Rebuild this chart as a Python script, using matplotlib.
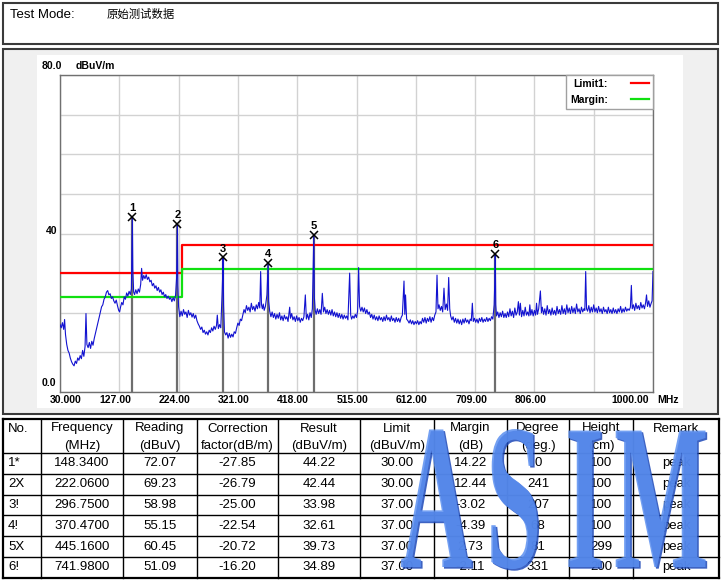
import numpy as np
import matplotlib
matplotlib.use("Agg")
import matplotlib.pyplot as plt
import matplotlib.transforms as mtransforms
import matplotlib.colors as mcolors
from matplotlib.patches import Rectangle
from matplotlib.lines import Line2D
from matplotlib.patheffects import AbstractPathEffect

plt.rcParams['font.family'] = ['Liberation Sans', 'DejaVu Sans']

# ---------------- data ----------------
test_mode_label = "Test Mode:"
test_mode_value = "原始测试数据"

x_tick_values = [30, 127, 224, 321, 418, 515, 612, 709, 806, 903, 1000]
x_tick_labels = ["30.000", "127.00", "224.00", "321.00", "418.00", "515.00",
                 "612.00", "709.00", "806.00", "", "1000.00"]
y_grid_values = [0, 10, 20, 30, 40, 50, 60, 70, 80]
y_tick_values = [80, 40, 0]
y_tick_labels = ["80.0", "40", "0.0"]
y_unit = "dBuV/m"
x_unit = "MHz"

limit_freq = [30, 230, 230, 1000]
limit_level = [30, 30, 37, 37]
margin_level = [24, 24, 31, 31]
legend_labels = ["Limit1:", "Margin:"]

trace_freq = [
    30, 32, 34, 36, 37.5, 39, 41, 43, 45, 47, 49, 51, 53, 55, 57, 59, 61, 63, 65, 67, 69, 71, 72.5,
    74, 76, 78, 80, 82, 84, 86, 88, 90, 92, 94, 96, 98, 100, 102, 104, 106, 108, 110, 112, 114, 116,
    118, 120, 122, 124, 126, 127.5, 129, 131, 133, 135, 137, 139, 141, 143, 145, 146.8, 147.6, 148.34,
    149.1, 150.5, 152, 154, 156, 158, 160, 162, 163.5, 165, 167, 169, 171, 173, 175, 177, 179, 181,
    183, 185, 187, 189, 191, 193, 195, 197, 199, 201, 203, 205, 207, 209, 211, 213, 215, 217, 219,
    220.8, 221.4, 222.06, 222.8, 224, 226,
    228, 230, 232, 234, 236, 238, 240, 242, 244, 246, 248, 250, 252, 254, 256, 258, 260, 262, 264,
    266, 268, 270, 272, 274, 276, 278, 280, 282, 284, 286, 287.3, 289, 291, 293, 295.2, 296.0, 296.75,
    297.6, 299, 301, 303, 305, 307, 309, 311, 313, 315, 317, 319, 321, 323, 325, 327, 329, 331, 333,
    335, 337, 339, 341, 343, 345, 347, 349, 351, 353, 355, 356.8, 358.2, 359.6, 361, 362.5, 364, 366,
    368.5, 369.6, 370.47, 371.3, 373, 375, 377, 379, 381, 383, 385, 387, 389, 391, 393, 395, 397, 399,
    401, 403, 405.7, 407, 409, 411, 413, 415, 417, 419, 421, 423, 425, 427,
    429, 431.3, 433, 435, 437, 439, 441, 442.8, 444.3, 445.16, 446.0, 447.5, 449, 451, 453, 455, 457,
    459.1, 461, 463, 465, 467, 469, 471, 473, 475, 477, 479, 481, 483, 485, 487, 489, 491, 493, 495,
    497, 499, 501, 503.8, 505.5, 507, 509, 511, 513, 515, 516.8, 518.5, 520, 522, 524, 526, 528, 530,
    532, 534, 536, 538, 540, 542, 544, 546, 548, 550, 552, 554, 556, 558, 560, 562, 564, 566, 568, 570,
    572, 574, 576, 578, 580, 582, 584, 586, 588, 590, 592.7, 594, 595.2, 597, 599, 601, 603, 605, 607,
    609, 611, 613, 615, 617, 619, 621,
    623, 625, 627, 629, 631, 633, 635, 637, 639, 641, 643, 645, 646.7, 648.3, 650, 652, 654, 656,
    658.1, 660, 662, 664, 665.8, 667.5, 669, 671, 673, 675, 677, 679, 681, 683, 685, 687, 689, 691,
    693, 695, 697, 699, 701, 702.8, 704.5, 706, 708, 710, 712, 714, 716, 718, 720, 722, 724, 726, 728,
    730, 732, 734, 736, 738, 740.2, 741.2, 741.98, 742.8, 744, 746, 748, 750, 752, 754, 756, 758, 760,
    762, 764, 766, 768, 770, 772, 774, 776, 778, 779.8, 781.5, 783, 785, 787, 789, 791, 793, 795, 797,
    798.5, 800, 802, 804, 806, 808, 809.5, 811, 813, 815.8,
    817.5, 819, 821, 823, 825, 827, 829, 831, 833, 835, 837, 839, 841, 843, 845, 847, 849, 851, 853,
    855, 857, 859, 861, 863, 865, 867, 869, 871, 873, 875, 877, 879, 881, 883, 885, 887, 888.5, 889.9,
    891.3, 893, 895, 897, 899, 901, 903, 905, 907, 909, 911, 913, 915, 917, 919, 921, 923, 925, 927,
    929, 931, 933, 935, 937, 939, 941, 943, 945, 947, 949, 951, 953, 955, 957, 959, 961, 963, 964.6,
    966, 968, 970, 972, 974, 976, 978, 980, 982, 984, 986, 988, 989.4, 991, 993, 995, 997, 998.5, 1000,
]
trace_level = [
    17.0, 16.2, 17.5, 15.8, 18.3, 14.5, 12.0, 10.5, 9.8, 8.5, 7.6, 7.0, 6.6, 7.8, 7.2, 8.6, 8.0, 9.2, 8.4, 10.5, 9.0, 11.5, 19.8,
    12.0, 11.2, 12.5, 11.0, 12.8, 11.8, 13.5, 14.8, 16.2, 17.5, 18.8, 20.2, 21.5, 22.0, 23.4, 24.0, 25.2, 25.6, 24.5, 24.8, 23.6, 24.0,
    23.0, 22.4, 23.2, 21.8, 20.6, 20.2, 21.4, 22.6, 22.0, 24.0, 23.4, 25.0, 24.2, 25.4, 24.6, 26.0, 36.5, 44.22,
    31.0, 25.2, 24.6, 25.8, 24.8, 26.0, 25.2, 27.2, 31.2, 28.2, 29.4, 28.6, 29.6, 28.4, 29.0, 27.8, 28.2, 26.8,
    27.4, 26.2, 26.8, 25.6, 26.4, 25.2, 25.8, 24.6, 25.2, 24.0, 24.6, 23.6, 24.2, 23.4, 23.8, 22.8, 23.8, 23.0, 24.4,
    29.0, 35.0, 42.44, 27.0, 21.5, 19.0,
    20.4, 19.2, 20.8, 19.6, 20.2, 18.8, 20.6, 19.4, 20.0, 18.9, 19.8, 18.6, 19.4, 18.0, 17.2, 16.6, 15.8, 16.4, 15.0,
    15.6, 14.6, 15.2, 14.4, 15.6, 15.0, 16.2, 15.4, 16.6, 15.8, 16.8, 19.4, 16.0, 17.0, 16.2, 25.0, 29.0, 33.98,
    22.0, 15.2, 14.4, 15.0, 13.6, 14.8, 13.8, 14.6, 13.9, 15.2, 14.8, 16.2, 17.4, 16.8, 18.4, 18.0, 19.4, 20.8, 20.0,
    21.8, 20.6, 21.4, 20.2, 22.4, 20.8, 21.6, 20.4, 22.0, 21.0, 22.6, 21.2, 30.4, 22.0, 21.0, 22.2, 20.6, 21.6,
    24.5, 28.7, 32.61, 23.0, 20.4, 19.0, 20.2, 18.8, 19.8, 18.4, 19.6, 18.6, 20.0, 18.2, 19.2, 18.0, 19.4, 18.4,
    19.0, 17.8, 21.4, 18.6, 19.8, 18.2, 19.0, 17.8, 19.2, 18.0, 18.8, 17.6, 18.6, 18.0,
    19.0, 24.5, 18.4, 19.6, 18.2, 20.0, 18.8, 21.0, 32.9, 39.73, 24.0, 20.6, 19.6, 21.0, 19.8, 20.8, 19.6,
    24.9, 20.2, 21.4, 19.8, 20.8, 19.6, 20.6, 19.4, 20.8, 19.2, 20.2, 19.0, 20.0, 18.8, 19.8, 18.6, 19.6, 18.4, 19.4,
    18.6, 19.2, 18.2, 30.0, 19.4, 18.4, 19.2, 18.6, 19.6, 18.8, 20.4, 31.4, 21.6, 20.4, 21.4, 20.2, 21.2, 19.8,
    20.8, 19.6, 20.2, 18.8, 19.6, 18.4, 19.4, 18.2, 19.0, 18.0, 19.2, 18.2, 18.8, 17.8, 19.0, 18.0, 19.4, 18.2, 18.8, 17.8,
    19.2, 18.0, 18.6, 17.6, 18.8, 17.8, 18.6, 17.6, 18.8, 19.4, 28.0, 19.6, 24.5, 18.4, 18.0, 17.4, 18.2, 17.2, 18.0,
    17.0, 17.8, 17.2, 18.0, 17.0, 17.8, 17.2,
    18.6, 17.6, 18.8, 17.4, 18.6, 17.8, 19.0, 17.6, 18.8, 18.0, 19.4, 20.2, 29.5, 21.0, 22.0, 20.6, 21.6, 20.2,
    26.2, 20.8, 22.2, 20.6, 28.9, 21.0, 19.2, 18.2, 19.0, 17.6, 18.6, 17.4, 18.4, 17.2, 18.2, 17.0, 18.4, 17.4,
    18.6, 17.6, 18.2, 17.2, 18.4, 18.0, 22.4, 17.8, 18.6, 17.6, 18.4, 17.4, 18.6, 17.8, 18.8, 17.6, 18.4, 17.8, 18.8,
    17.8, 18.6, 18.0, 19.0, 18.4, 22.0, 27.9, 34.89, 22.0, 19.2, 20.2, 18.8, 20.0, 19.0, 20.4, 18.8, 19.8, 18.8,
    20.2, 19.0, 21.0, 19.2, 20.4, 18.8, 21.2, 19.4, 20.2, 22.8, 19.4, 22.4, 19.0, 20.6, 19.2, 21.4, 19.4, 20.2, 19.2,
    22.0, 19.4, 20.8, 19.2, 20.6, 19.4, 22.4, 19.6, 21.0, 25.5,
    20.0, 21.4, 19.6, 21.0, 19.4, 21.8, 19.8, 20.8, 19.4, 21.2, 19.6, 20.6, 19.4, 21.6, 19.8, 20.8, 19.6, 21.8, 19.8,
    21.0, 19.6, 22.0, 20.0, 21.2, 19.8, 21.6, 20.0, 21.2, 19.8, 22.2, 20.2, 21.0, 19.8, 21.4, 20.2, 21.0, 20.6, 30.4,
    21.0, 20.4, 21.8, 20.0, 21.4, 20.2, 22.0, 20.2, 21.2, 20.0, 21.6, 20.2, 21.0, 19.8, 21.4, 20.2, 20.8, 19.8, 21.4,
    20.0, 20.8, 19.8, 21.2, 20.0, 20.8, 19.8, 21.0, 20.2, 21.6, 20.0, 21.0, 20.2, 21.4, 20.4, 21.0, 20.6, 21.4, 26.9,
    21.0, 22.0, 20.6, 22.4, 21.0, 21.8, 20.8, 22.6, 21.2, 22.0, 21.0, 22.6, 24.5, 21.6, 23.0, 21.4, 22.4, 23.0, 30.4,
]

table_header = ["No.", "Frequency\n(MHz)", "Reading\n(dBuV)", "Correction\nfactor(dB/m)",
                "Result\n(dBuV/m)", "Limit\n(dBuV/m)", "Margin\n(dB)", "Degree\n(deg.)",
                "Height\n(cm)", "Remark"]
marker_no = ["1*", "2X", "3!", "4!", "5X", "6!"]
marker_freq = [148.34, 222.06, 296.75, 370.47, 445.16, 741.98]
marker_reading = [72.07, 69.23, 58.98, 55.15, 60.45, 51.09]
marker_correction = [-27.85, -26.79, -25.00, -22.54, -20.72, -16.20]
marker_result = [44.22, 42.44, 33.98, 32.61, 39.73, 34.89]
marker_limit = [30.00, 30.00, 37.00, 37.00, 37.00, 37.00]
marker_margin = [14.22, 12.44, -3.02, -4.39, 2.73, -2.11]
marker_degree = [0, 241, 207, 68, 81, 331]
marker_height = [100, 100, 100, 100, 299, 200]
marker_remark = ["peak", "peak", "peak", "peak", "peak", "peak"]
watermark_text = "ASIM"

# ---------------- figure ----------------
W, H = 724, 583
fig = plt.figure(figsize=(W / 100, H / 100), dpi=100)
fig.patch.set_facecolor("white")


def px_rect(l, t, r, b):
    return [l / W, 1 - b / H, (r - l) / W, (b - t) / H]


bg = fig.add_axes([0, 0, 1, 1], zorder=0)
bg.set_xlim(0, W)
bg.set_ylim(H, 0)
bg.axis("off")

ax = fig.add_axes(px_rect(60, 75, 653, 392), zorder=1)
fg = fig.add_axes([0, 0, 1, 1], zorder=2)
fg.set_xlim(0, W)
fg.set_ylim(H, 0)
fg.axis("off")

# header box
bg.add_patch(Rectangle((3, 3), 715, 41, fc="white", ec="#3a3a3a", lw=1.5))
bg.text(10, 14.5, test_mode_label, fontsize=9.5, va="center", ha="left")
bg.text(107, 14.5, test_mode_value, fontsize=8.2, va="center", ha="left",
        family=["Noto Sans CJK SC", "DejaVu Sans"])

# chart panel
bg.add_patch(Rectangle((3, 49), 715, 365, fc="#f0f0f0", ec="#3a3a3a", lw=1.5))
bg.add_patch(Rectangle((37, 55), 646, 353, fc="white", ec="none"))

# ---- plot ----
ax.set_xlim(30, 1000)
ax.set_ylim(0, 80)
ax.set_xticks(x_tick_values)
ax.set_yticks(y_grid_values)
ax.tick_params(length=0, labelbottom=False, labelleft=False)
ax.grid(True, color="#d2d2d2", lw=1)
ax.set_axisbelow(True)
for sp in ax.spines.values():
    sp.set_color("#707070")
    sp.set_linewidth(1)

ax.vlines(marker_freq, 0, marker_result, color="#6e6e6e", lw=1.6, zorder=2)
ax.plot(limit_freq, limit_level, color="#ff0000", lw=1.6, zorder=3)
ax.plot(limit_freq, margin_level, color="#10e010", lw=1.6, zorder=3)
ax.plot(trace_freq, trace_level, color="#1212d0", lw=0.8, zorder=4)
ax.plot(marker_freq, marker_result, ls="none", marker="x", color="black",
        ms=6, mew=1.1, zorder=6)
for i, (f, v) in enumerate(zip(marker_freq, marker_result)):
    ax.annotate(str(i + 1), (f, v), xytext=(0, 2.5), textcoords="offset points",
                ha="center", va="bottom", fontsize=8, fontweight="bold", zorder=6)


def off(dx, dy):
    return mtransforms.ScaledTranslation(dx / 100, -dy / 100, fig.dpi_scale_trans)


xt = ax.get_xaxis_transform()
for v, lab in zip(x_tick_values, x_tick_labels):
    if not lab:
        continue
    if v == x_tick_values[0]:
        dx, ha = 6, "center"
    elif v == x_tick_values[-1]:
        dx, ha = -4, "right"
    else:
        dx, ha = -4, "center"
    ax.text(v, 0, lab, transform=xt + off(dx, 8), ha=ha, va="center",
            fontsize=7.5, fontweight="bold", clip_on=False)
ax.text(x_tick_values[-1], 0, x_unit, transform=xt + off(4, 8), ha="left", va="center",
        fontsize=7.5, fontweight="bold", clip_on=False)

yt = ax.get_yaxis_transform()
y_offsets = {80: (2, -9), 40: (-3, -2), 0: (-4, -9)}
for v, lab in zip(y_tick_values, y_tick_labels):
    dx, dy = y_offsets[v]
    ax.text(0, v, lab, transform=yt + off(dx, dy), ha="right", va="center",
            fontsize=7.5, fontweight="bold", clip_on=False)
ax.text(0, 80, y_unit, transform=yt + off(16, -9), ha="left", va="center",
        fontsize=7.5, fontweight="bold", clip_on=False)

handles = [Line2D([], [], color="#ff0000", lw=1.6), Line2D([], [], color="#10e010", lw=1.6)]
leg = ax.legend(handles, legend_labels, loc="upper right", markerfirst=False,
                fancybox=False, frameon=True, edgecolor="#a0a0a0", framealpha=1,
                borderaxespad=0, prop={"size": 7.5, "weight": "bold"},
                handlelength=1.8, handletextpad=2.2, borderpad=0.35, labelspacing=0.6)
leg.get_frame().set_linewidth(1)
leg.set_zorder(7)

# ---- table ----
col_edges = [3, 41, 123, 197, 278, 360, 434, 507, 569, 633, 719]
row_edges = [419, 453, 473.8, 494.6, 515.4, 536.2, 557, 577.8]
for y in row_edges:
    lw = 1.6 if y in (row_edges[0], row_edges[-1]) else 1.0
    fg.plot([col_edges[0], col_edges[-1]], [y, y], color="black", lw=lw)
for x in col_edges:
    lw = 1.6 if x in (col_edges[0], col_edges[-1]) else 1.0
    fg.plot([x, x], [row_edges[0], row_edges[-1]], color="black", lw=lw)

for c, head in enumerate(table_header):
    lines = head.split("\n")
    if c == 0:
        xpos, ha = col_edges[0] + 5, "left"
    else:
        xpos, ha = (col_edges[c] + col_edges[c + 1]) / 2, "center"
    for k, ln in enumerate(lines):
        fg.text(xpos, 428.5 + 17 * k, ln, ha=ha, va="center", fontsize=9.5)

rows = []
for i in range(len(marker_no)):
    rows.append([marker_no[i], f"{marker_freq[i]:.4f}", f"{marker_reading[i]:.2f}",
                 f"{marker_correction[i]:.2f}", f"{marker_result[i]:.2f}",
                 f"{marker_limit[i]:.2f}", f"{marker_margin[i]:.2f}",
                 f"{marker_degree[i]}", f"{marker_height[i]}", marker_remark[i]])
for r, row in enumerate(rows):
    yc = (row_edges[r + 1] + row_edges[r + 2]) / 2
    for c, val in enumerate(row):
        if c == 0:
            xpos, ha = col_edges[0] + 5, "left"
        else:
            xpos, ha = (col_edges[c] + col_edges[c + 1]) / 2, "center"
        fg.text(xpos, yc, val, ha=ha, va="center", fontsize=9.5)


# ---- watermark (tall condensed serif letters, stretched about the baseline) ----
class Stretch(AbstractPathEffect):
    def __init__(self, sx, sy, offset=(0, 0), fc=None, alpha=None):
        super().__init__(offset)
        self.sx = sx
        self.sy = sy
        self.fc = fc
        self.alpha = alpha

    def draw_path(self, renderer, gc, tpath, affine, rgbFace=None):
        gc0 = renderer.new_gc()
        gc0.copy_properties(gc)
        gc0.set_linewidth(0)
        if self.alpha is not None:
            gc0.set_alpha(self.alpha)
        face = mcolors.to_rgba(self.fc) if self.fc is not None else rgbFace
        trans = (mtransforms.Affine2D().scale(self.sx, self.sy) + affine
                 + self._offset_transform(renderer))
        renderer.draw_path(gc0, tpath, trans, face)
        gc0.restore()


wm_sy = 3.0
wm_sx = 0.48 * wm_sy
wm_x = [400, 486, 565, 614]
for ch, x0 in zip(watermark_text, wm_x):
    fg.text(x0, 567, ch, ha="left", va="baseline", fontsize=150 / wm_sy,
            fontweight="bold", family=["Liberation Serif"], color="#4f84ec", zorder=10,
            path_effects=[Stretch(wm_sx, wm_sy, offset=(1.2, -1.2), fc="#1c48b8", alpha=0.85),
                          Stretch(wm_sx, wm_sy, fc="#5b8ff0", alpha=0.85)])

fig.savefig("out.png", dpi=100)
